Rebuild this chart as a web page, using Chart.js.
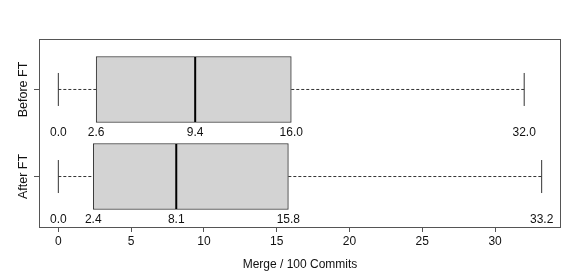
<!DOCTYPE html>
<html>
<head>
<meta charset="utf-8">
<script src="https://cdn.jsdelivr.net/npm/chart.js@4"></script>
<style>
  body { margin: 0; background: #fff; }
  #wrap { width: 581px; height: 277px; position: relative; }
</style>
</head>
<body>
<div id="wrap"><canvas id="boxChart"></canvas></div>
<script>
// data
const groups = ['Before FT', 'After FT'];
const groupPos = [2, 1];
const mins = [0.0, 0.0];
const q1s = [2.6, 2.4];
const medians = [9.4, 8.1];
const q3s = [16.0, 15.8];
const maxs = [32.0, 33.2];
const xTicks = [0, 5, 10, 15, 20, 25, 30];

const FONT = '"Liberation Sans", Arial, sans-serif';
const lineColor = '#333';

const datasets = [];

// whiskers (dashed)
groups.forEach(function(g, i) {
    [[mins[i], q1s[i]], [q3s[i], maxs[i]]].forEach(function(seg) {
        datasets.push({
            type: 'scatter',
            order: 1,
            showLine: true,
            data: [{x: seg[0], y: groupPos[i]}, {x: seg[1], y: groupPos[i]}],
            borderColor: lineColor,
            borderWidth: 1,
            borderDash: [3, 2],
            pointRadius: 0
        });
    });
});

// boxes
datasets.push({
    type: 'bar',
    order: 3,
    indexAxis: 'y',
    data: groups.map((g, i) => ({x: [q1s[i], q3s[i]], y: groupPos[i]})),
    backgroundColor: '#d3d3d3',
    borderColor: lineColor,
    borderWidth: 1,
    borderSkipped: false,
    barThickness: 66
});

// whisker caps
datasets.push({
    type: 'scatter',
    order: 1,
    data: groups.flatMap((g, i) => [{x: mins[i], y: groupPos[i]}, {x: maxs[i], y: groupPos[i]}]),
    pointStyle: 'line',
    pointRotation: 90,
    pointRadius: 16.5,
    pointBorderWidth: 1,
    pointBorderColor: lineColor
});

// medians (drawn on top of boxes)
datasets.push({
    type: 'scatter',
    order: 0,
    data: groups.map((g, i) => ({x: medians[i], y: groupPos[i]})),
    pointStyle: 'line',
    pointRotation: 90,
    pointRadius: 32.5,
    pointBorderWidth: 2,
    pointBorderColor: '#000'
});

const boxExtras = {
    id: 'boxExtras',
    afterDatasetsDraw(chart) {
        const ctx = chart.ctx;
        const xs = chart.scales.x, ys = chart.scales.y;
        const a = chart.chartArea;
        ctx.save();
        // frame
        ctx.strokeStyle = '#555';
        ctx.lineWidth = 1;
        ctx.strokeRect(Math.round(a.left) + 0.5, Math.round(a.top) + 0.5,
            Math.round(a.right - a.left) - 1, Math.round(a.bottom - a.top));
        // five-number labels under each box
        ctx.fillStyle = '#111';
        ctx.font = '12px ' + FONT;
        ctx.textAlign = 'center';
        ctx.textBaseline = 'middle';
        groups.forEach(function(g, i) {
            const y = ys.getPixelForValue(groupPos[i] - 0.5);
            [mins[i], q1s[i], medians[i], q3s[i], maxs[i]].forEach(function(v) {
                ctx.fillText(v.toFixed(1), xs.getPixelForValue(v), y);
            });
        });
        // group names on the y axis
        ctx.font = '12.5px ' + FONT;
        groups.forEach(function(g, i) {
            ctx.save();
            ctx.translate(24, ys.getPixelForValue(groupPos[i]));
            ctx.rotate(-Math.PI / 2);
            ctx.fillText(g, 0, 0);
            ctx.restore();
        });
        ctx.restore();
    }
};

new Chart(document.getElementById('boxChart').getContext('2d'), {
    type: 'scatter',
    data: { datasets: datasets },
    options: {
        responsive: true,
        maintainAspectRatio: false,
        animation: false,
        layout: { autoPadding: false, padding: { top: 39, right: 20, left: 0, bottom: 0 } },
        plugins: {
            legend: { display: false },
            tooltip: { enabled: false }
        },
        scales: {
            x: {
                type: 'linear',
                position: 'bottom',
                offset: false,
                min: -1.328,
                max: 34.528,
                afterBuildTicks: function(scale) {
                    scale.ticks = xTicks.map(v => ({value: v}));
                },
                afterFit: function(scale) { scale.height = 50; },
                border: { display: false },
                grid: { offset: false, drawOnChartArea: false, drawTicks: true, tickLength: 5, color: '#555' },
                ticks: {
                    color: '#111',
                    padding: 2,
                    maxRotation: 0,
                    autoSkip: false,
                    font: { family: FONT, size: 12 }
                },
                title: {
                    display: true,
                    text: 'Merge / 100 Commits',
                    color: '#111',
                    padding: { top: 0, bottom: 5 },
                    font: { family: FONT, size: 12 }
                }
            },
            y: {
                type: 'linear',
                position: 'left',
                offset: false,
                min: 0.42,
                max: 2.58,
                afterBuildTicks: function(scale) {
                    scale.ticks = groupPos.map(v => ({value: v}));
                },
                afterFit: function(scale) { scale.width = 39; },
                border: { display: false },
                grid: { offset: false, drawOnChartArea: false, drawTicks: true, tickLength: 5, color: '#555' },
                ticks: { display: false }
            }
        }
    },
    plugins: [boxExtras]
});
</script>
</body>
</html>
